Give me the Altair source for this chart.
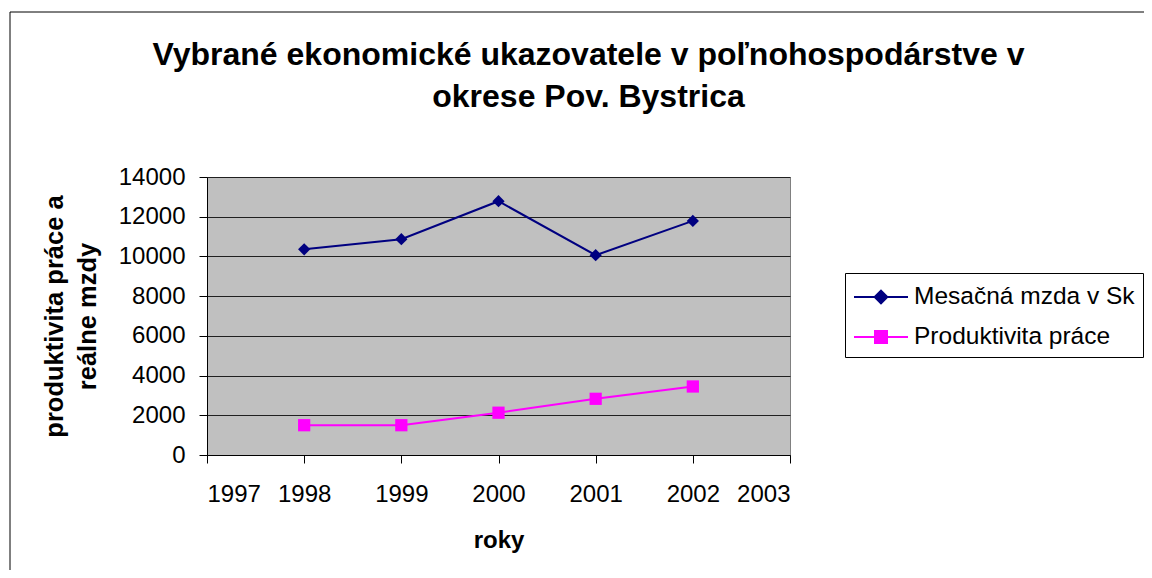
import altair as alt
import pandas as pd

years = [1998, 1999, 2000, 2001, 2002]
mzda = [10360, 10870, 12780, 10060, 11790]
produktivita = [1500, 1500, 2130, 2830, 3450]
series_names = ["Mesačná mzda v Sk", "Produktivita práce"]
series_colors = ["#000080", "#FF00FF"]
series_shapes = ["diamond", "square"]
x_ticks = [1997, 1998, 1999, 2000, 2001, 2002, 2003]
y_ticks = [0, 2000, 4000, 6000, 8000, 10000, 12000, 14000]

df = pd.DataFrame({
    "rok": years * 2,
    "hodnota": mzda + produktivita,
    "seria": [series_names[0]] * len(years) + [series_names[1]] * len(years),
})

FONT = "Liberation Sans"

x_enc = alt.X("rok:Q", scale=alt.Scale(domain=[1997, 2003], nice=False, zero=False),
              axis=alt.Axis(values=x_ticks, format="d", title="roky", grid=False,
                            domainColor="black", tickColor="black", tickSize=8,
                            labelFontSize=24, labelFont=FONT, labelColor="black",
                            labelPadding=19, titleFont=FONT, titleFontSize=24,
                            titleFontWeight="bold", titleColor="black", titlePadding=22))
y_enc = alt.Y("hodnota:Q", scale=alt.Scale(domain=[0, 14000], nice=False),
              axis=alt.Axis(values=y_ticks, format="d",
                            title=["produktivita práce a", "reálne mzdy"],
                            grid=True, gridColor="#202020", gridWidth=1.2,
                            domainColor="black", tickColor="black", tickSize=8,
                            labelFontSize=24, labelFont=FONT, labelColor="black",
                            labelPadding=14, titleFont=FONT, titleFontSize=25.5,
                            titleFontWeight="bold", titleColor="black",
                            titleX=-153, titleY=139, titleAngle=270,
                            titleBaseline="middle", titleLineHeight=33))

layers = []
for name, col, shp in zip(series_names, series_colors, series_shapes):
    base = alt.Chart(df).transform_filter(alt.datum.seria == name)
    layers.append(base.mark_line(strokeWidth=2, color=col).encode(x=x_enc, y=y_enc))
    layers.append(base.mark_point(filled=True, size=150, opacity=1, shape=shp, color=col)
                  .encode(x=x_enc, y=y_enc))

leg_shapes = [
    "M-1.8,0H1.8M0,-0.42L0.42,0L0,0.42L-0.42,0Z",
    "M-1.8,0H1.8M-0.4,-0.4H0.4V0.4H-0.4Z",
]
legend = alt.Legend(title=None, orient="none", legendX=638, legendY=96,
                    fillColor="white", strokeColor="black", padding=8,
                    symbolSize=900, symbolStrokeWidth=2, symbolOpacity=1,
                    symbolOffset=12, labelOffset=17, rowPadding=12,
                    labelFont=FONT, labelFontSize=24.5, labelColor="black",
                    labelExpr="datum.label + '      '",
                    labelLimit=500, cornerRadius=0)
color_scale = alt.Scale(domain=series_names, range=series_colors)

legend_layer = alt.Chart(df).mark_point(filled=True, opacity=1, strokeWidth=2, clip=True).encode(
    x=alt.value(-3000), y=alt.value(100),
    color=alt.Color("seria:N", scale=color_scale, legend=legend),
    stroke=alt.Stroke("seria:N", scale=color_scale, legend=legend),
    shape=alt.Shape("seria:N", scale=alt.Scale(domain=series_names, range=leg_shapes),
                    legend=legend),
)

frame = alt.Chart(alt.Data(values=[{}])).mark_rect(fill=None, stroke="black", strokeWidth=1, clip=False).encode(
    x=alt.value(-197), x2=alt.value(1100), y=alt.value(-165), y2=alt.value(600)
)

chart = alt.layer(frame, *layers, legend_layer).properties(
    width=583, height=278,
    autosize=alt.AutoSizeParams(type="none"),
    padding={"left": 199, "top": 169, "right": 354, "bottom": 115},
    background="white",
    title=alt.TitleParams(
        text=["Vybrané ekonomické ukazovatele v poľnohospodárstve v", "okrese Pov. Bystrica"],
        font=FONT, fontSize=32, fontWeight="bold", color="black",
        anchor="middle", frame="group", dx=90, dy=102, offset=0, lineHeight=42,
    ),
).configure_view(fill="#C0C0C0", stroke="#808080", strokeWidth=1)

chart.save("out.html", embed_options={"renderer": "svg", "actions": False})
